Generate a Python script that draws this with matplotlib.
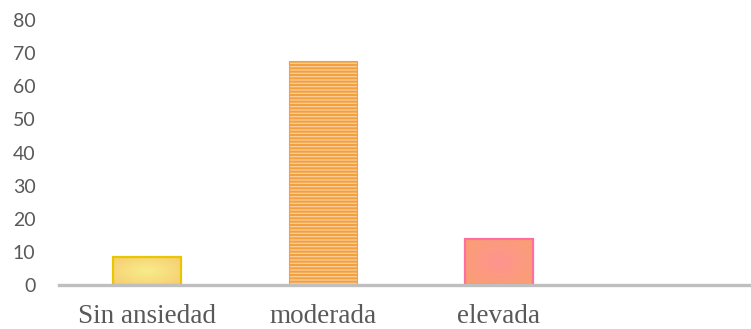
import numpy as np
import matplotlib
matplotlib.use("Agg")
import matplotlib.pyplot as plt
from matplotlib.colors import LinearSegmentedColormap

categories = ["Sin ansiedad", "moderada", "elevada"]
values = [8.4, 67.6, 13.9]
yticks = [0, 10, 20, 30, 40, 50, 60, 70, 80]

plt.rcParams['hatch.linewidth'] = 1.4

fig = plt.figure(figsize=(7.51, 3.29), dpi=100)
ax = fig.add_axes([59/751, 44/329, 1 - 59/751, 265/329])

x = np.arange(len(categories))
width = 0.386
bars = ax.bar(x, values, width=width, zorder=2)

# bar styles
edge_cols = ['#E8C600', '#F4A040', '#FF6E9C']
for b, ec in zip(bars, edge_cols):
    b.set_edgecolor(ec)
    b.set_linewidth(1.6)

# radial gradient helper
def radial_fill(bar, center_col, edge_col):
    x0, y0 = bar.get_x(), bar.get_y()
    w, h = bar.get_width(), bar.get_height()
    n = 200
    xx, yy = np.meshgrid(np.linspace(-1, 1, n), np.linspace(-1, 1, n))
    r = np.clip(np.sqrt(xx**2 + yy**2) / np.sqrt(2), 0, 1)
    cmap = LinearSegmentedColormap.from_list('g', [center_col, edge_col])
    im = ax.imshow(r, cmap=cmap, extent=[x0, x0 + w, y0, y0 + h],
                   aspect='auto', zorder=1.9, interpolation='bilinear')
    im.set_clip_path(bar)
    bar.set_facecolor('none')

radial_fill(bars[0], '#F8EC8C', '#F6CC6E')
radial_fill(bars[2], '#FF9490', '#F8A070')

# striped bar
bars[1].set_facecolor('#F9CC98')
bars[1].set_hatch('-----')
bars[1].set_edgecolor('#F3A03C')
bars[1].set_linewidth(0.8)

ax.set_xlim(-0.5, 3.433)
ax.set_ylim(0, 80)
ax.set_yticks(yticks)
ax.set_xticks(x)
ax.set_xticklabels(categories, family='Liberation Serif', fontsize=19.5, color='#595959')
for lab in ax.get_yticklabels():
    lab.set_family('Lato')
    lab.set_fontsize(14)
    lab.set_color('#595959')
ax.tick_params(axis='y', length=0, pad=17)
ax.tick_params(axis='x', length=0, pad=13.5)

for s in ['top', 'right', 'left']:
    ax.spines[s].set_visible(False)
ax.spines['bottom'].set_color('#BFBFBF')
ax.spines['bottom'].set_linewidth(2.4)
ax.spines['bottom'].set_zorder(3)
ax.set_facecolor('none')

fig.savefig('out.png', dpi=100)
